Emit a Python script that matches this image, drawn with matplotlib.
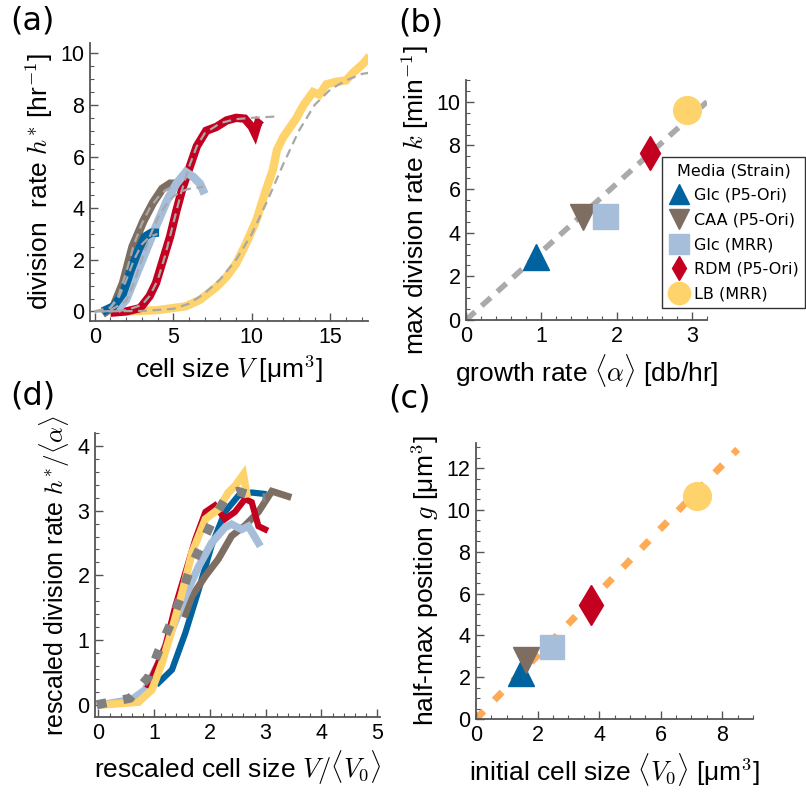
import matplotlib
matplotlib.use('Agg')
import matplotlib.pyplot as plt
from matplotlib.ticker import MultipleLocator
from matplotlib.lines import Line2D

plt.rcParams['font.family'] = ['Liberation Sans', 'DejaVu Sans']
plt.rcParams['mathtext.fontset'] = 'cm'

# colours per condition
c_glc = '#00639f'
c_caa = '#7e6e61'
c_mrr = '#a7bedb'
c_rdm = '#c3001f'
c_lb = '#ffd36b'

# (a) division rate vs cell size, measured curves
a_glc_x = [0.5, 1.2, 1.8, 2.3, 2.8, 3.2, 3.6, 4.1]
a_glc_y = [0.0, 0.2, 0.7, 1.6, 2.4, 2.9, 3.05, 3.05]
a_caa_x = [0.5, 1.2, 1.8, 2.4, 3.1, 3.7, 4.3, 4.8, 5.2]
a_caa_y = [-0.1, 0.2, 1.1, 2.5, 3.5, 4.2, 4.75, 4.95, 4.95]
a_mrr_x = [1.4, 2.0, 2.6, 3.3, 3.9, 4.6, 5.2, 5.8, 6.3, 6.7, 7.0]
a_mrr_y = [0.05, 0.45, 1.35, 2.4, 3.3, 4.3, 4.95, 5.4, 5.2, 4.95, 4.55]
a_rdm_x = [1.0, 2.0, 2.9, 3.5, 3.9, 4.35, 4.8, 5.2, 5.6, 6.05, 6.5, 7.1, 7.75, 8.4, 9.0, 9.55, 10.0, 10.2, 10.4, 10.6]
a_rdm_y = [-0.05, 0.0, 0.13, 0.6, 1.1, 2.0, 2.9, 3.9, 4.8, 5.6, 6.4, 7.0, 7.15, 7.4, 7.5, 7.47, 7.15, 6.9, 7.3, 7.2]
a_lb_x = [2.0, 4.0, 5.8, 6.7, 7.75, 8.4, 9.0, 9.65, 10.3, 10.9, 11.35, 11.6, 12.0, 12.4, 12.85,
          13.3, 13.9, 14.3, 14.75, 15.4, 16.0, 16.45, 17.1, 17.5]
a_lb_y = [0.0, 0.05, 0.2, 0.45, 0.95, 1.35, 1.85, 2.65, 3.55, 4.7, 5.5, 6.25, 6.75, 7.1, 7.5,
          8.0, 8.5, 8.4, 8.8, 8.9, 8.95, 9.25, 9.6, 9.9]

# (a) fitted curves (dashed grey)
f_glc_x = [0.0, 1.0, 1.5, 2.0, 2.5, 3.0, 3.5, 4.0]
f_glc_y = [0.0, 0.15, 0.5, 1.2, 2.0, 2.6, 2.9, 3.0]
f_caa_x = [0.0, 1.0, 1.5, 2.0, 2.5, 3.0, 3.5, 4.0, 4.5, 5.0]
f_caa_y = [0.0, 0.15, 0.6, 1.5, 2.6, 3.4, 4.0, 4.4, 4.7, 4.85]
f_mrr_x = [1.0, 2.0, 2.5, 3.0, 3.5, 4.0, 4.5, 5.0, 5.5, 6.0, 6.9]
f_mrr_y = [0.05, 0.4, 1.1, 2.0, 2.9, 3.6, 4.1, 4.45, 4.65, 4.75, 4.83]
f_rdm_x = [0.5, 2.0, 3.0, 3.5, 4.0, 4.5, 5.0, 5.5, 6.0, 6.5, 7.0, 8.0, 9.0, 10.0, 11.5]
f_rdm_y = [0.0, 0.05, 0.25, 0.6, 1.2, 2.2, 3.4, 4.6, 5.6, 6.4, 6.9, 7.3, 7.45, 7.5, 7.55]
f_lb_x = [0.0, 3.0, 5.0, 6.0, 7.0, 8.0, 9.0, 10.0, 11.0, 12.0, 13.0, 14.0, 15.0, 16.0, 17.0, 17.5]
f_lb_y = [0.0, 0.02, 0.1, 0.3, 0.7, 1.25, 2.0, 3.0, 4.3, 5.7, 7.0, 8.0, 8.6, 8.95, 9.2, 9.25]

# (b) growth rate vs max division rate; (c) initial size vs half-max position
labels = ['Glc (P5-Ori)', 'CAA (P5-Ori)', 'Glc (MRR)', 'RDM (P5-Ori)', 'LB (MRR)']
colors = [c_glc, c_caa, c_mrr, c_rdm, c_lb]
markers = ['^', 'v', 's', 'd', 'o']
alpha = [0.93, 1.55, 1.85, 2.44, 2.93]
k_max = [2.9, 4.7, 4.75, 7.66, 9.63]
v0 = [1.46, 1.63, 2.47, 3.74, 7.19]
g_half = [2.2, 2.82, 3.44, 5.45, 10.67]
b_line_x = [0.0, 3.2]
b_line_y = [0.0, 10.0]
c_line_x = [0.0, 8.5]
c_line_y = [0.0, 12.9]

# (d) rescaled curves
d_glc_x = [1.08, 1.32, 1.56, 1.8, 2.03, 2.27, 2.51, 2.75, 2.96]
d_glc_y = [0.34, 0.54, 1.11, 1.78, 2.46, 2.98, 3.23, 3.28, 3.26]
d_caa_x = [1.56, 1.68, 1.92, 2.15, 2.39, 2.63, 2.87, 3.11, 3.4]
d_caa_y = [1.4, 1.68, 1.99, 2.25, 2.61, 2.77, 2.98, 3.3, 3.22]
d_mrr_x = [0.06, 0.6, 0.84, 1.08, 1.32, 1.56, 1.8, 2.03, 2.27, 2.39, 2.57, 2.69, 2.87]
d_mrr_y = [0.0, 0.08, 0.23, 0.64, 1.16, 1.68, 2.14, 2.5, 2.74, 2.79, 2.71, 2.76, 2.5]
d_rdm_x = [0.9, 1.2, 1.38, 1.56, 1.74, 1.92, 2.09, 2.27, 2.45, 2.63, 2.75, 2.87, 2.99]
d_rdm_y = [0.3, 0.9, 1.52, 2.04, 2.56, 2.98, 3.08, 2.87, 2.98, 3.18, 3.13, 2.76, 2.71]
d_lb_x = [0.12, 0.72, 0.96, 1.14, 1.32, 1.5, 1.68, 1.92, 2.15, 2.33, 2.45, 2.6, 2.66]
d_lb_y = [0.0, 0.04, 0.23, 0.64, 1.16, 1.73, 2.35, 2.87, 3.02, 3.28, 3.38, 3.56, 3.26]
d_fit_x = [-0.03, 0.57, 0.9, 1.08, 1.29, 1.47, 1.64, 1.85, 2.06, 2.33, 2.5, 2.87, 3.0]
d_fit_y = [0.0, 0.1, 0.43, 0.83, 1.24, 1.65, 2.09, 2.48, 2.87, 3.26, 3.3, 3.2, 3.2]

W, H = 806, 796
fig = plt.figure(figsize=(W / 100, H / 100), dpi=100)


def px_axes(left, top, right, bottom):
    return fig.add_axes([left / W, 1 - bottom / H, (right - left) / W, (bottom - top) / H])


def style(ax):
    for s in ['top', 'right']:
        ax.spines[s].set_visible(False)
    for s in ['left', 'bottom']:
        ax.spines[s].set_color('#555555')
        ax.spines[s].set_linewidth(1.3)
    ax.tick_params(which='both', direction='in', color='#555555', labelsize=15.5, pad=4)
    ax.tick_params(which='major', length=6, width=1.0)
    ax.tick_params(which='minor', length=3, width=0.8)


ax_a = px_axes(90, 43, 368, 321)
ax_b = px_axes(466, 80, 707, 320)
ax_d = px_axes(95, 433, 380, 717)
ax_c = px_axes(476, 443, 753, 719)

# (a)
for x, y, c in [(a_lb_x, a_lb_y, c_lb), (a_rdm_x, a_rdm_y, c_rdm), (a_caa_x, a_caa_y, c_caa),
                (a_mrr_x, a_mrr_y, c_mrr), (a_glc_x, a_glc_y, c_glc)]:
    ax_a.plot(x, y, color=c, lw=6, solid_joinstyle='miter', solid_capstyle='butt')
for x, y in [(f_lb_x, f_lb_y), (f_rdm_x, f_rdm_y), (f_caa_x, f_caa_y),
             (f_mrr_x, f_mrr_y), (f_glc_x, f_glc_y)]:
    ax_a.plot(x, y, color='#a8a8a8', lw=1.6, dashes=[4, 2.5])
ax_a.set_xlim(-0.3, 17.4)
ax_a.set_ylim(-0.37, 10.4)
ax_a.xaxis.set_major_locator(MultipleLocator(5))
ax_a.xaxis.set_minor_locator(MultipleLocator(1))
ax_a.yaxis.set_major_locator(MultipleLocator(2))
ax_a.yaxis.set_minor_locator(MultipleLocator(0.5))
ax_a.set_xlabel(r'cell size $V$ [μm$^3$]', fontsize=19)
ax_a.set_ylabel(r'division  rate $h^{*}$ [hr$^{-1}$]', fontsize=19)
style(ax_a)

# (b)
ax_b.plot(b_line_x, b_line_y, color='#aaaaaa', lw=4, dashes=[2.2, 1.6], zorder=1)
sizes = [19, 19, 18, 17, 20]
for i in range(len(labels)):
    ax_b.plot(alpha[i], k_max[i], marker=markers[i], color=colors[i], ms=sizes[i],
              ls='none', label=labels[i], zorder=3)
ax_b.set_xlim(0, 3.2)
ax_b.set_ylim(0, 11)
ax_b.xaxis.set_major_locator(MultipleLocator(1))
ax_b.xaxis.set_minor_locator(MultipleLocator(0.2))
ax_b.yaxis.set_major_locator(MultipleLocator(2))
ax_b.yaxis.set_minor_locator(MultipleLocator(0.5))
ax_b.set_xlabel(r'growth rate $\langle\alpha\rangle$ [db/hr]', fontsize=19)
ax_b.set_ylabel(r'max division rate $k$ [min$^{-1}$]', fontsize=19)
style(ax_b)

handles = [Line2D([], [], marker=markers[i], color=colors[i], ls='none', ms=[15, 15, 15, 12, 16][i])
           for i in range(len(labels))]
leg = fig.legend(handles, labels, title='Media (Strain)', loc='upper left',
                 bbox_to_anchor=(662 / W, 1 - 157 / H), frameon=True, fancybox=False,
                 prop={'family': 'DejaVu Sans', 'size': 11.5},
                 title_fontproperties={'family': 'DejaVu Sans', 'size': 11.5},
                 handletextpad=0.3, labelspacing=0.6, borderpad=0.4, handlelength=1.3,
                 borderaxespad=0)
leg.get_frame().set_edgecolor('black')
leg.get_frame().set_linewidth(1.0)

# (d)
for x, y, c, lw in [(d_glc_x, d_glc_y, c_glc, 4.5), (d_caa_x, d_caa_y, c_caa, 5),
                    (d_mrr_x, d_mrr_y, c_mrr, 5.5), (d_rdm_x, d_rdm_y, c_rdm, 4.5),
                    (d_lb_x, d_lb_y, c_lb, 5.5)]:
    ax_d.plot(x, y, color=c, lw=lw, solid_joinstyle='miter')
ax_d.plot(d_fit_x, d_fit_y, color='#808080', lw=6.5, dashes=[1.1, 1.9])
ax_d.set_xlim(-0.06, 5.05)
ax_d.set_ylim(-0.19, 4.2)
ax_d.xaxis.set_major_locator(MultipleLocator(1))
ax_d.xaxis.set_minor_locator(MultipleLocator(0.2))
ax_d.yaxis.set_major_locator(MultipleLocator(1))
ax_d.yaxis.set_minor_locator(MultipleLocator(0.2))
ax_d.set_xlabel(r'rescaled cell size $V/\langle V_0\rangle$', fontsize=19)
ax_d.set_ylabel(r'rescaled division rate $h^{*}/\langle\alpha\rangle$', fontsize=18)
style(ax_d)

# (c)
ax_c.plot(c_line_x, c_line_y, color='#ffaa55', lw=5, dashes=[1.6, 2.2], zorder=1)
for i in range(len(labels)):
    ax_c.plot(v0[i], g_half[i], marker=markers[i], color=colors[i], ms=[19, 19, 17, 20, 20][i],
              ls='none', zorder=3)
ax_c.set_xlim(0, 9.0)
ax_c.set_ylim(0, 13.2)
ax_c.xaxis.set_major_locator(MultipleLocator(2))
ax_c.xaxis.set_minor_locator(MultipleLocator(0.5))
ax_c.yaxis.set_major_locator(MultipleLocator(2))
ax_c.yaxis.set_minor_locator(MultipleLocator(0.5))
ax_c.set_xlabel(r'initial cell size $\langle V_0\rangle$ [μm$^3$]', fontsize=19)
ax_c.set_ylabel(r'half-max position $g$ [μm$^3$]', fontsize=19)
style(ax_c)

for txt, x, y in [('(a)', 10, 30), ('(b)', 398, 32), ('(d)', 10, 405), ('(c)', 388, 408)]:
    fig.text(x / W, 1 - y / H, txt, fontsize=23, family='DejaVu Sans', va='baseline')

fig.savefig('out.png', dpi=100)
